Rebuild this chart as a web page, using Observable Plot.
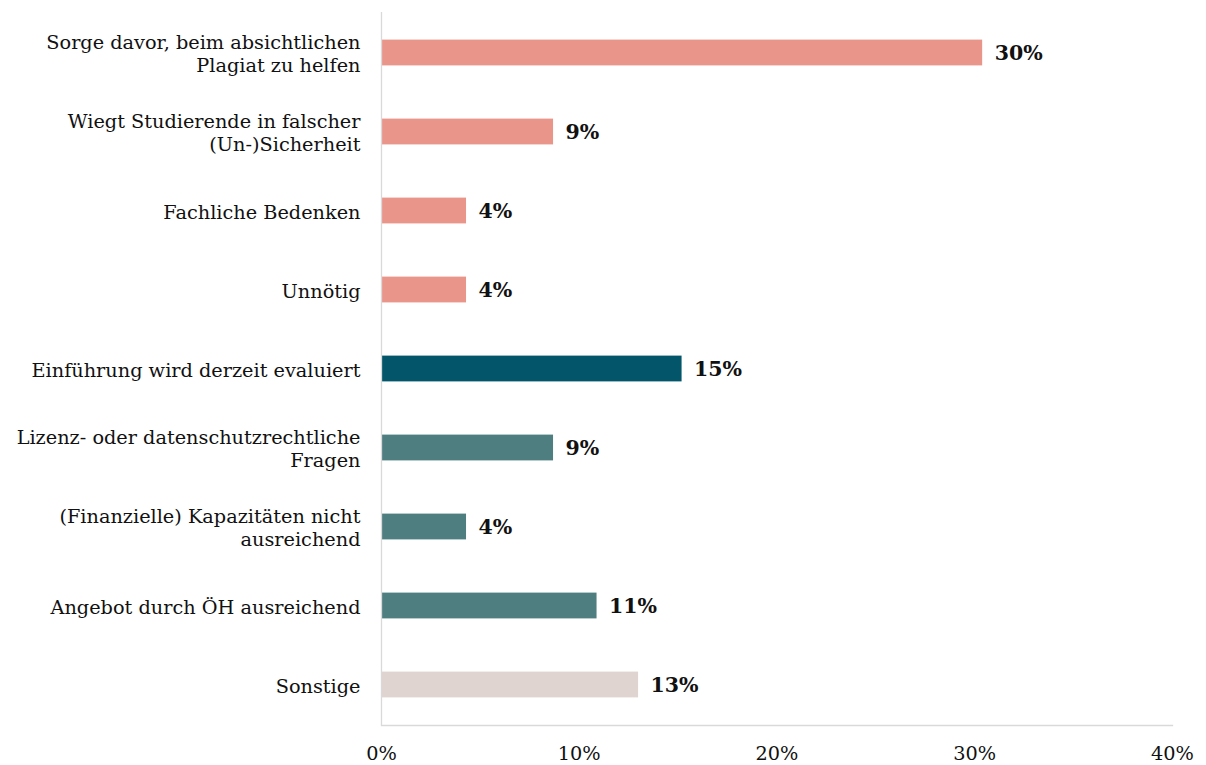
<!DOCTYPE html>
<html><head><meta charset="utf-8">
<script src="https://cdn.jsdelivr.net/npm/d3@7"></script>
<script src="https://cdn.jsdelivr.net/npm/@observablehq/plot@0.6"></script>
<style>body{margin:0;background:#fff;} svg{display:block;}</style>
</head><body><div id="chart"></div>
<script>
const categories = [
  "Sorge davor, beim absichtlichen\nPlagiat zu helfen",
  "Wiegt Studierende in falscher\n(Un-)Sicherheit",
  "Fachliche Bedenken",
  "Unnötig",
  "Einführung wird derzeit evaluiert",
  "Lizenz- oder datenschutzrechtliche\nFragen",
  "(Finanzielle) Kapazitäten nicht\nausreichend",
  "Angebot durch ÖH ausreichend",
  "Sonstige"
];
const values = [30.4, 8.7, 4.3, 4.3, 15.2, 8.7, 4.3, 10.9, 13.0];
const groups = ["a","a","a","a","b","c","c","c","d"];
const groupColors = {a:"#E9958A", b:"#03566A", c:"#4F7E80", d:"#DFD4CF"};
const xTicks = [0, 10, 20, 30, 40];

const data = categories.map((c, i) => ({cat: c, value: values[i], group: groups[i]}));
const font = "'DejaVu Serif', serif";

const chart = Plot.plot({
  width: 1206,
  height: 765,
  marginLeft: 381,
  marginRight: 34,
  marginTop: 12,
  marginBottom: 40,
  style: {fontFamily: font, fontSize: "19.3px", color: "#111", background: "#fff"},
  x: {domain: [0, 40], ticks: xTicks, label: null},
  y: {domain: categories, padding: 0, label: null},
  marks: [
    Plot.barX(data, {x: "value", y: "cat", fill: d => groupColors[d.group], insetTop: 26.6, insetBottom: 26.6}),
    Plot.frame({anchor: "bottom", stroke: "#d9d9d9", strokeWidth: 1.3}),
    Plot.ruleX([0], {stroke: "#d9d9d9", strokeWidth: 1.3}),
    Plot.text(data, {x: "value", y: "cat", text: d => Math.round(d.value) + "%", textAnchor: "start", dx: 12, fontWeight: "bold", fontSize: 20.5, fill: "#111"}),
    Plot.axisX({ticks: xTicks, tickSize: 0, tickPadding: 21, tickFormat: d => d + "%", fontSize: 19.3, label: null}),
    Plot.axisY({tickSize: 0, tickPadding: 21, fontSize: 19.3, label: null, lineHeight: 1.22})
  ]
});
document.getElementById("chart").appendChild(chart);
</script>
</body></html>
